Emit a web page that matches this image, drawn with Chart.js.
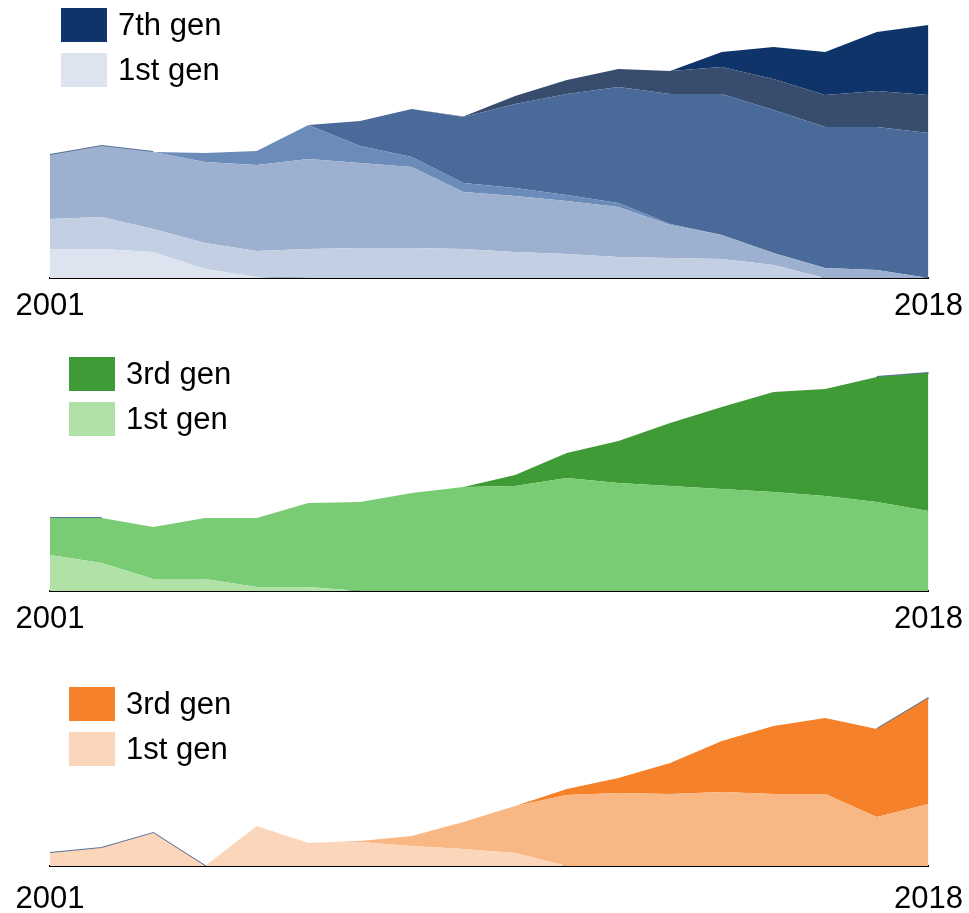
<!DOCTYPE html>
<html>
<head>
<meta charset="utf-8">
<script src="https://cdn.jsdelivr.net/npm/chart.js@4.4.1/dist/chart.umd.min.js"></script>
<style>
  body { margin: 0; background: #fff; overflow: hidden; }
  #wrap { position: relative; width: 969px; height: 913px; overflow: hidden; font-family: "Liberation Sans", Arial, sans-serif; }
  canvas { position: absolute; left: 0; }
  .legend { position: absolute; }
  .item { display: flex; align-items: center; height: 34px; margin-bottom: 11px; font-size: 31px; color: #000; }
  .swatch { width: 46px; height: 34px; margin-right: 11px; }
</style>
</head>
<body>
<div id="wrap">
  <canvas id="chartBlue" width="969" height="334" style="top:0px"></canvas>
  <canvas id="chartGreen" width="969" height="318" style="top:330px"></canvas>
  <canvas id="chartOrange" width="969" height="292" style="top:640px"></canvas>
  <div class="legend" id="legendBlue" style="left:61px; top:8px"></div>
  <div class="legend" id="legendGreen" style="left:69px; top:357px"></div>
  <div class="legend" id="legendOrange" style="left:69px; top:687px"></div>
</div>
<script>
const years = ['2001', '2002', '2003', '2004', '2005', '2006', '2007', '2008', '2009',
               '2010', '2011', '2012', '2013', '2014', '2015', '2016', '2017', '2018'];
const genNames = ['1st gen', '2nd gen', '3rd gen', '4th gen', '5th gen', '6th gen', '7th gen'];

// top panel: seven generations, stacked
const blueGen1 = [29, 29, 26, 9, 1, 0, 0, 0, 0, 0, 0, 0, 0, 0, 0, 0, 0, 0];
const blueGen2 = [30, 32, 23, 26, 26, 29, 30, 30, 29, 26, 24, 21, 20, 19, 13, 0, 0, 0];
const blueGen3 = [64, 71, 77, 81, 86, 90, 85, 81, 57, 56, 53, 50, 33, 24, 12, 10, 8, 0];
const blueGen4 = [0, 0, 0, 9, 14, 34, 17, 10, 9, 8, 6, 4, 1, 0, 0, 0, 0, 0];
const blueGen5 = [0, 0, 0, 0, 0, 0, 25, 48, 66, 84, 101, 116, 130, 141, 143, 141, 143, 145];
const blueGen6 = [0, 0, 0, 0, 0, 0, 0, 0, 0.5, 8, 14, 18, 23, 27, 31, 32, 36, 38];
const blueGen7 = [0, 0, 0, 0, 0, 0, 0, 0, 0, 0, 0, 0, 0, 15, 32, 43, 59, 70];
const blueEdge = [0, 0, 0, null, null, null, null, null, null, null, null, null, null, null, null, null, null, null];
const blueColors = ['#dde4ef', '#c3cfe2', '#9db0cf', '#6b8bb8', '#4a6a9a', '#384d6e', '#0e3469'];

// middle panel
const greenGen1 = [36, 28, 12, 12, 4, 4, 0, 0, 0, 0, 0, 0, 0, 0, 0, 0, 0, 0];
const greenGen2 = [37, 45, 52, 61, 69, 84, 89, 98, 104, 105, 113, 108, 105, 102, 99, 95, 89, 80];
const greenGen3 = [0, 0, 0, 0, 0, 0, 0, 0, 0, 11, 25, 42, 63, 82, 100, 107, 125, 138];
const greenEdge = [0, 0, null, null, null, null, null, null, null, null, null, null, null, null, null, null, 0, 0];
const greenColors = ['#b0e2a8', '#79cc73', '#3f9b35'];

// bottom panel
const orangeGen1 = [13, 18, 33, 0, 40, 23, 24, 20, 17, 13, 0, 0, 0, 0, 0, 0, 0, 0];
const orangeGen2 = [0, 0, 0, 0, 0, 0, 1, 10, 27, 47, 71, 73, 72, 74, 72, 72, 49, 62];
const orangeGen3 = [0, 0, 0, 0, 0, 0, 0, 0, 0, 0, 6, 15, 31, 51, 68, 76, 88, 106];
const orangeEdge = [0, 0, 0, 0, null, null, null, null, null, null, null, null, null, null, null, null, 0, 0];
const orangeColors = ['#fbd6ba', '#f8b783', '#f5822a'];

const edgeColor = '#5b7299';

function buildDatasets(series, colors, edge) {
    const ds = series.map((vals, i) => ({
        label: genNames[i],
        data: vals,
        backgroundColor: colors[i],
        borderWidth: 0,
        pointRadius: 0,
        fill: i === 0 ? 'origin' : '-1',
    }));
    // thin outline along the top of the stack
    ds.push({
        label: 'edge',
        data: edge,
        borderColor: edgeColor,
        borderWidth: 2,
        pointRadius: 0,
        fill: false,
    });
    return ds;
}

function makeChart(id, datasets, yMax, labelLine) {
    return new Chart(document.getElementById(id), {
        type: 'line',
        data: { labels: years, datasets: datasets },
        options: {
            responsive: false,
            animation: false,
            events: [],
            layout: { padding: { left: 50, right: 40, top: 0, bottom: 0 } },
            elements: { line: { tension: 0 } },
            plugins: { legend: { display: false }, tooltip: { enabled: false } },
            scales: {
                x: {
                    grid: { display: false, drawTicks: false },
                    border: { display: true, color: '#000', width: 2 },
                    ticks: {
                        autoSkip: false,
                        maxRotation: 0,
                        minRotation: 0,
                        padding: 6,
                        color: '#000',
                        font: { family: 'Liberation Sans', size: 31, lineHeight: labelLine + 'px' },
                        callback: (v, i) => (i === 0 || i === years.length - 1) ? years[i] : ''
                    }
                },
                y: { display: false, stacked: true, min: 0, max: yMax }
            }
        }
    });
}

function makeLegend(id, chart, which) {
    const box = document.getElementById(id);
    for (const i of which) {
        const ds = chart.data.datasets[i];
        const row = document.createElement('div');
        row.className = 'item';
        const sw = document.createElement('div');
        sw.className = 'swatch';
        sw.style.background = ds.backgroundColor;
        const txt = document.createElement('span');
        txt.textContent = ds.label;
        row.appendChild(sw);
        row.appendChild(txt);
        box.appendChild(row);
    }
}

const blueChart = makeChart('chartBlue',
    buildDatasets([blueGen1, blueGen2, blueGen3, blueGen4, blueGen5, blueGen6, blueGen7], blueColors, blueEdge),
    278, 44);
const greenChart = makeChart('chartGreen',
    buildDatasets([greenGen1, greenGen2, greenGen3], greenColors, greenEdge),
    261, 45);
const orangeChart = makeChart('chartOrange',
    buildDatasets([orangeGen1, orangeGen2, orangeGen3], orangeColors, orangeEdge),
    226, 54);

makeLegend('legendBlue', blueChart, [6, 0]);
makeLegend('legendGreen', greenChart, [2, 0]);
makeLegend('legendOrange', orangeChart, [2, 0]);
</script>
</body>
</html>
